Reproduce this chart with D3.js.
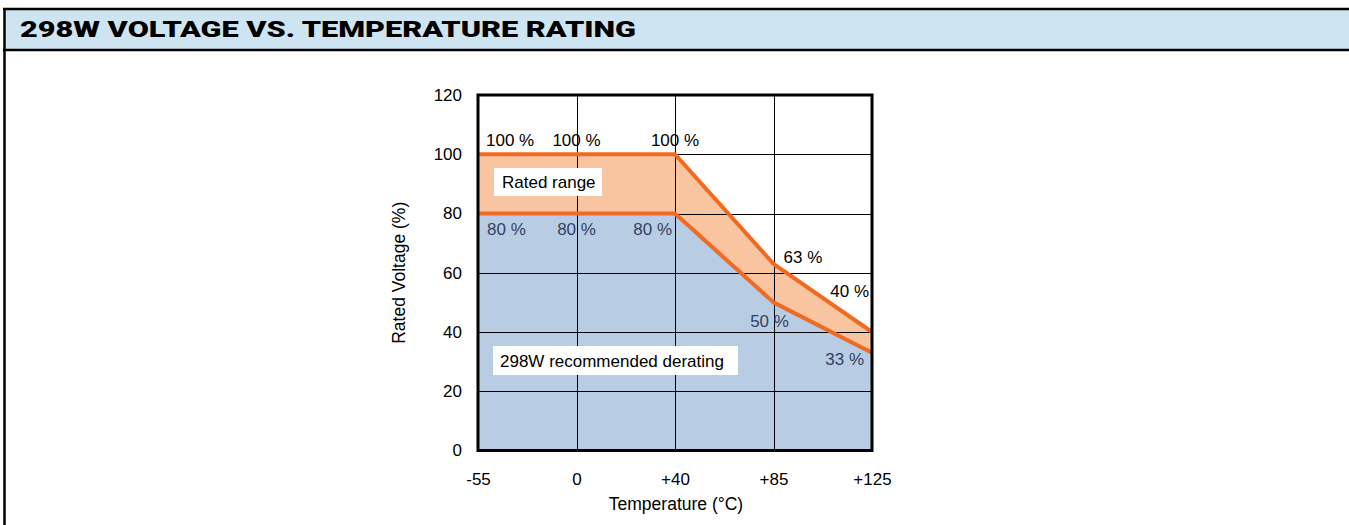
<!DOCTYPE html>
<html><head><meta charset="utf-8">
<script src="https://cdn.jsdelivr.net/npm/d3@7"></script>
<style>html,body{margin:0;padding:0;background:#fff;}svg{display:block;}</style>
</head><body>
<script>
const title = "298W VOLTAGE VS. TEMPERATURE RATING";
const temps = ["-55", "0", "+40", "+85", "+125"];
const upper = [100, 100, 100, 63, 40];
const lower = [80, 80, 80, 50, 33];
const yTicks = [0, 20, 40, 60, 80, 100, 120];
const upperLabels = ["100 %", "100 %", "100 %", "63 %", "40 %"];
const lowerLabels = ["80 %", "80 %", "80 %", "50 %", "33 %"];

const W = 1349, H = 525;
const svg = d3.select("body").append("svg").attr("width", W).attr("height", H);
const font = "'Liberation Sans', Arial, sans-serif";
const fs = 17;

// header
svg.append("rect").attr("x", 4).attr("y", 9).attr("width", W).attr("height", 41)
  .attr("fill", "#cfe4f1");
svg.append("line").attr("x1", 3).attr("x2", W).attr("y1", 9).attr("y2", 9).attr("stroke", "#000").attr("stroke-width", 2.5);
svg.append("line").attr("x1", 3).attr("x2", W).attr("y1", 50).attr("y2", 50).attr("stroke", "#000").attr("stroke-width", 2.5);
svg.append("line").attr("x1", 4.5).attr("x2", 4.5).attr("y1", 8).attr("y2", H).attr("stroke", "#000").attr("stroke-width", 2.5);
svg.append("text").attr("x", 20).attr("y", 37).text(title)
  .attr("font-family", "'Roboto', 'Liberation Sans', Arial, sans-serif").attr("font-weight", 900)
  .attr("font-size", 21.5).attr("fill", "#000")
  .attr("textLength", 616).attr("lengthAdjust", "spacingAndGlyphs");

const L = 478, R = 872, T = 95, B = 450.5;
const x = d3.scalePoint().domain(temps).range([L, R]);
const y = d3.scaleLinear().domain([0, 120]).range([B, T]);

const data = temps.map((t, i) => ({t, u: upper[i], l: lower[i]}));

// fills
svg.append("path").datum(data).attr("fill", "#b8cce4")
  .attr("d", d3.area().x(d => x(d.t)).y0(y(0)).y1(d => y(d.l)));
svg.append("path").datum(data).attr("fill", "#f8c5a0")
  .attr("d", d3.area().x(d => x(d.t)).y0(d => y(d.l)).y1(d => y(d.u)));

// grid
const g = svg.append("g");
g.selectAll("line.h").data(yTicks.slice(1, -1)).join("line")
  .attr("x1", L).attr("x2", R).attr("y1", d => Math.round(y(d)) + 0.5).attr("y2", d => Math.round(y(d)) + 0.5)
  .attr("stroke", "#000").attr("stroke-width", 1);
g.selectAll("line.v").data(temps.slice(1, -1)).join("line")
  .attr("x1", d => Math.round(x(d)) + 0.5).attr("x2", d => Math.round(x(d)) + 0.5).attr("y1", T).attr("y2", B)
  .attr("stroke", "#000").attr("stroke-width", 1);

// orange lines
svg.append("path").datum(data).attr("fill", "none").attr("stroke", "#f06a22").attr("stroke-width", 4)
  .attr("stroke-linejoin", "round")
  .attr("d", d3.line().x(d => x(d.t)).y(d => y(d.u)));
svg.append("path").datum(data).attr("fill", "none").attr("stroke", "#f06a22").attr("stroke-width", 4)
  .attr("stroke-linejoin", "round")
  .attr("d", d3.line().x(d => x(d.t)).y(d => y(d.l)));

// plot border
svg.append("rect").attr("x", L).attr("y", T).attr("width", R - L).attr("height", B - T)
  .attr("fill", "none").attr("stroke", "#000").attr("stroke-width", 3);

// axes
const yAxis = svg.append("g").attr("transform", `translate(${L},0)`)
  .call(d3.axisLeft(y).tickValues(yTicks).tickSize(0).tickPadding(16));
const xAxis = svg.append("g").attr("transform", `translate(0,${B})`)
  .call(d3.axisBottom(x).tickSize(0).tickPadding(22));
[yAxis, xAxis].forEach(a => {
  a.select(".domain").remove();
  a.selectAll("text").attr("font-family", font).attr("font-size", fs).attr("fill", "#000");
});

svg.append("text").attr("x", 676).attr("y", 510).attr("text-anchor", "middle")
  .attr("font-family", font).attr("font-size", 17.5).text("Temperature (°C)");
svg.append("text").attr("transform", `translate(405,${(T + B) / 2}) rotate(-90)`).attr("text-anchor", "middle")
  .attr("font-family", font).attr("font-size", 17.5).text("Rated Voltage (%)");

// value labels
const uPos = [
  {dx: 8, dy: -8, a: "start"}, {dx: 0, dy: -8, a: "middle"}, {dx: 0, dy: -8, a: "middle"},
  {dx: 10, dy: -1, a: "start"}, {dx: -3, dy: -35, a: "end"}];
const lPos = [
  {dx: 9, dy: 21, a: "start"}, {dx: 0, dy: 21, a: "middle"}, {dx: -3, dy: 21, a: "end"},
  {dx: -4, dy: 25, a: "middle"}, {dx: -8, dy: 12, a: "end"}];
data.forEach((d, i) => {
  const up = uPos[i], lp = lPos[i];
  svg.append("text").attr("x", x(d.t) + up.dx).attr("y", y(d.u) + up.dy).attr("text-anchor", up.a)
    .attr("font-family", font).attr("font-size", fs).attr("fill", "#000").text(upperLabels[i]);
  svg.append("text").attr("x", x(d.t) + lp.dx).attr("y", y(d.l) + lp.dy).attr("text-anchor", lp.a)
    .attr("font-family", font).attr("font-size", fs).attr("fill", "#34425f").text(lowerLabels[i]);
});

// boxed notes
function note(txt, bx, by, bw, bh, tx, ty) {
  svg.append("rect").attr("x", bx).attr("y", by).attr("width", bw).attr("height", bh).attr("fill", "#fff");
  svg.append("text").attr("x", tx).attr("y", ty).attr("font-family", font).attr("font-size", fs)
    .attr("fill", "#000").text(txt);
}
note("Rated range", 494, 168, 108, 28, 502, 188);
note("298W recommended derating", 493, 346, 245, 29, 500, 367);
</script>
</body></html>
